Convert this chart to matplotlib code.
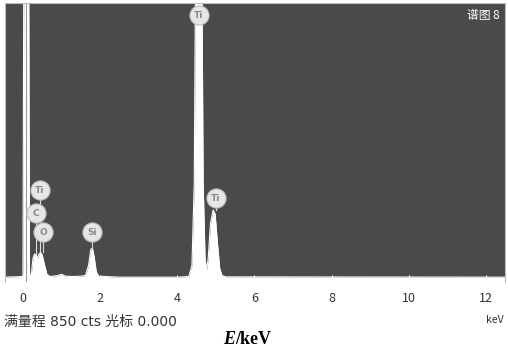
import matplotlib
matplotlib.use('Agg')
import matplotlib.pyplot as plt

plt.rcParams['font.family'] = ['Noto Sans CJK SC', 'DejaVu Sans']

# spectrum outline (keV, counts)
energy = [-0.47, 0.0, 0.02, 0.15, 0.17, 0.22, 0.26, 0.30, 0.34, 0.38, 0.42, 0.46,
          0.50, 0.55, 0.62, 0.70, 0.90, 1.00, 1.10, 1.30, 1.50, 1.62, 1.70, 1.76,
          1.80, 1.84, 1.90, 1.96, 2.50, 3.00, 4.00, 4.30, 4.38, 4.44, 4.47, 4.64,
          4.67, 4.72, 4.76, 4.80, 4.86, 4.93, 4.98, 5.04, 5.10, 5.16, 5.25, 12.5]
counts = [3, 5, 900, 900, 10, 15, 62, 75, 72, 62, 76, 80,
          72, 45, 12, 5, 8, 12, 6, 5, 6, 8, 40, 90,
          93, 70, 20, 6, 3, 3, 3, 5, 40, 300, 900, 900,
          300, 60, 25, 60, 170, 212, 200, 110, 30, 8, 4, 3]

# element markers (label, keV, counts)
labels = ['Ti', 'Ti', 'C', 'O', 'Si', 'Ti']
lab_x = [4.56, 0.44, 0.34, 0.52, 1.79, 5.00]
lab_y = [819, 274, 202, 143, 143, 249]
peak_y = [850, 80, 75, 80, 93, 212]

fig = plt.figure(figsize=(5.08, 3.54), dpi=100)
ax = fig.add_axes([0.0098, 0.203, 0.984, 0.789])
ax.set_facecolor('#4a4a4a')

ax.fill_between(energy, counts, -20, color='white', lw=0)
ax.plot(energy, counts, color='white', lw=0.8)
ax.axvline(0.08, color='#9a9a9a', lw=0.8)  # cursor line inside zero peak

# stems from markers to peaks
for x, y0, y1 in zip(lab_x, lab_y, peak_y):
    if y1 < y0:
        ax.plot([x, x], [y1, y0], color='#dddddd', lw=0.8)

ax.scatter(lab_x, lab_y, s=190, color='#e6e6e6', edgecolors='#bdbdbd', lw=0.8, zorder=5)
for t, x, y in zip(labels, lab_x, lab_y):
    ax.text(x, y, t, fontsize=6.5, color='#8a8a8a', ha='center', va='center',
            family='DejaVu Sans', fontweight='bold', zorder=6)

ax.text(0.99, 0.955, '谱图 8', transform=ax.transAxes, ha='right', va='center',
        fontsize=8.5, color='white')

ax.set_xlim(-0.466, 12.49)
ax.set_ylim(-12.5, 857)
ax.set_xticks([0, 2, 4, 6, 8, 10, 12])
ax.set_xticks([i * 0.2 for i in range(-2, 63)], minor=True)
ax.set_yticks([])
ax.tick_params(axis='x', which='major', direction='in', length=5, color='white',
               labelsize=9, labelcolor='#333333', pad=7)
ax.tick_params(axis='x', which='minor', direction='in', length=3, color='white')
for s in ['top', 'left', 'right']:
    ax.spines[s].set_color('#bbbbbb')
    ax.spines[s].set_linewidth(0.8)
ax.spines['bottom'].set_visible(False)

fig.text(0.008, 0.09, '满量程 850 cts 光标 0.000', fontsize=10, color='#333333',
         va='center', ha='left', family=['DejaVu Sans', 'Noto Sans CJK SC'])
fig.text(0.992, 0.095, 'keV', fontsize=7.5, color='#333333', va='center', ha='right')
fig.text(0.462, 0.04, 'E', fontsize=13, color='black', va='center', ha='right',
         family='Liberation Serif', fontweight='bold', style='italic')
fig.text(0.462, 0.04, '/keV', fontsize=13, color='black', va='center', ha='left',
         family='Liberation Serif', fontweight='bold')

fig.savefig('out.png', dpi=100)
